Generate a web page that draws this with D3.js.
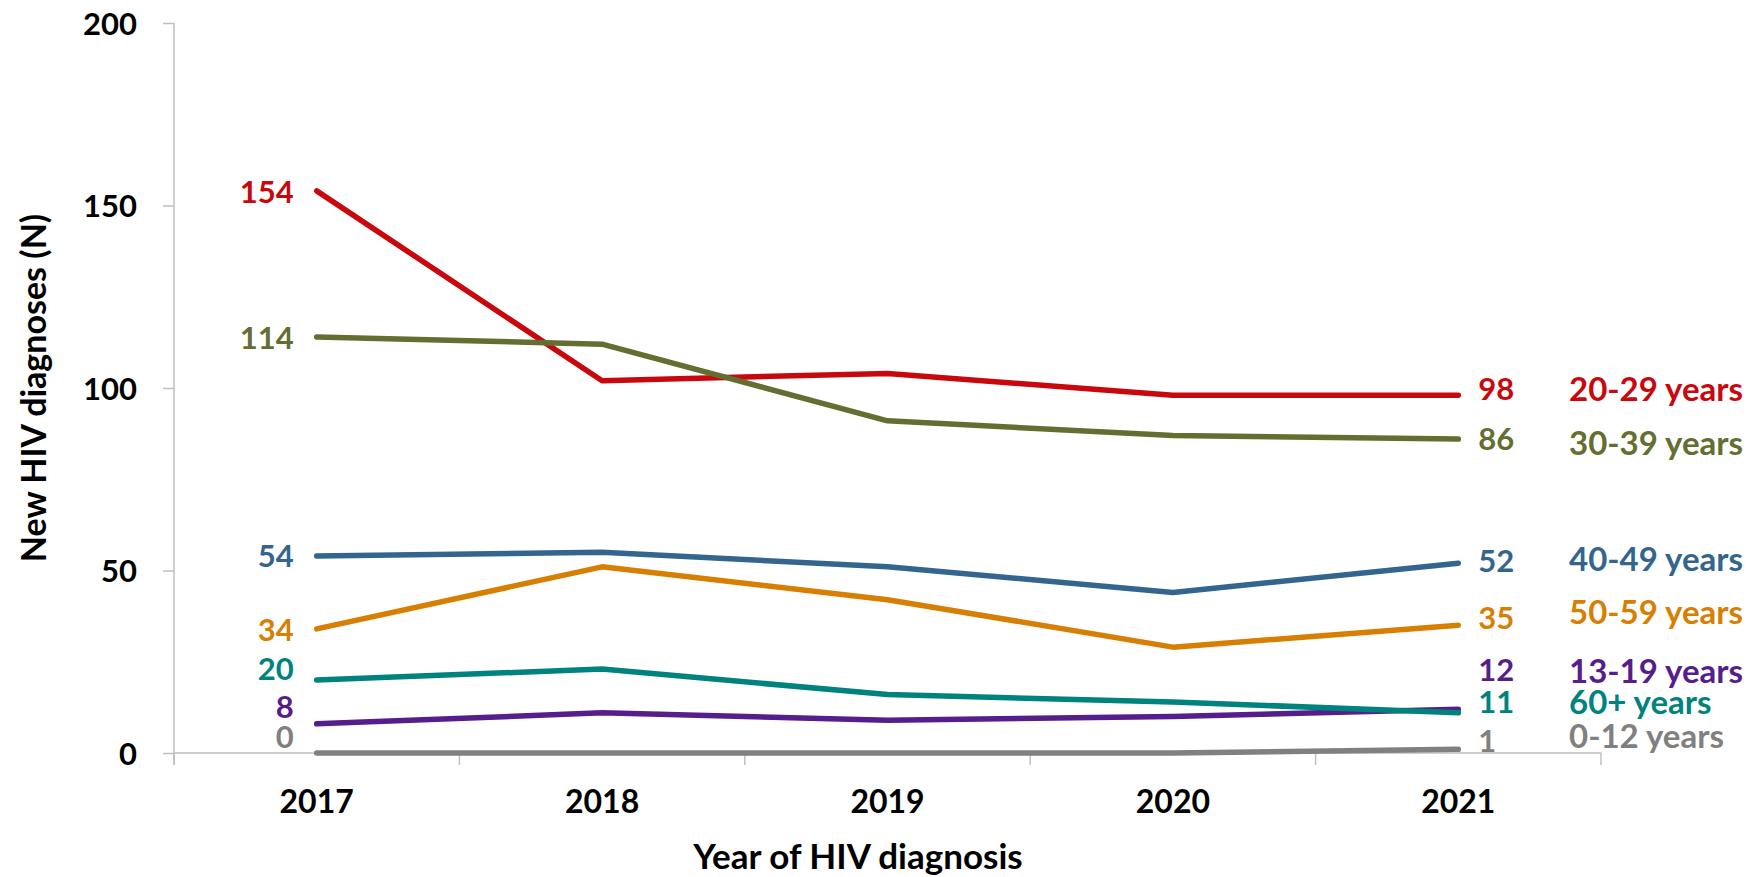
<!DOCTYPE html>
<html>
<head>
<meta charset="utf-8">
<script src="https://cdn.jsdelivr.net/npm/d3@7"></script>
<style>
  body { margin: 0; background: #fff; }
  svg text { font-family: Lato, "Open Sans", sans-serif; font-weight: bold; }
</style>
</head>
<body>
<div id="chart"></div>
<script>
// Data
const years = [2017, 2018, 2019, 2020, 2021];
const yTicks = [0, 50, 100, 150, 200];

const groups = ["0-12 years", "13-19 years", "20-29 years", "30-39 years", "40-49 years", "50-59 years", "60+ years"];
const age0_12 = [0, 0, 0, 0, 1];
const age13_19 = [8, 11, 9, 10, 12];
const age20_29 = [154, 102, 104, 98, 98];
const age30_39 = [114, 112, 91, 87, 86];
const age40_49 = [54, 55, 51, 44, 52];
const age50_59 = [34, 51, 42, 29, 35];
const age60plus = [20, 23, 16, 14, 11];

const seriesValues = [age0_12, age13_19, age20_29, age30_39, age40_49, age50_59, age60plus];
const colors = ["#808080", "#561D8C", "#C9080E", "#636E30", "#33658F", "#D77F03", "#00827E"];

// label nudges (px) so the end labels do not collide
const leftDy = [-16, -17, 1, 1, 0, 1, -11];
const rightValueDy = [-9, -39, -6, 0, -2, -7, -11];
const rightNameDy = [-13, -38, -6, 4, -4, -13, -11];

const width = 1762, height = 877;
const svg = d3.select("#chart").append("svg")
    .attr("width", width)
    .attr("height", height);

const x = d3.scaleBand().domain(years).range([174, 1601]).padding(0);
const y = d3.scaleLinear().domain([0, 200]).range([753, 23]);
const cx = d => x(d) + x.bandwidth() / 2;

const axisColor = "#BFBFBF";

// y axis
const yAxis = svg.append("g")
    .attr("transform", "translate(174,0)")
    .call(d3.axisLeft(y).tickValues(yTicks).tickSize(11).tickPadding(26).tickSizeOuter(0));
yAxis.select(".domain").remove();
yAxis.selectAll(".tick line").attr("stroke", axisColor).attr("stroke-width", 1.5);
yAxis.selectAll(".tick text").attr("font-size", 31).attr("fill", "#000").attr("dy", "0.36em");
svg.append("line")
    .attr("x1", 174).attr("x2", 174)
    .attr("y1", y(200)).attr("y2", y(0) + 12)
    .attr("stroke", axisColor).attr("stroke-width", 1.5);

// x axis with category boundary ticks
svg.append("line")
    .attr("x1", 174).attr("x2", 1601)
    .attr("y1", y(0)).attr("y2", y(0))
    .attr("stroke", axisColor).attr("stroke-width", 1.5);
const bounds = years.map(d => x(d)).concat([x(years[years.length - 1]) + x.bandwidth()]);
svg.selectAll(".xb").data(bounds).enter().append("line")
    .attr("x1", d => d).attr("x2", d => d)
    .attr("y1", y(0)).attr("y2", y(0) + 12)
    .attr("stroke", axisColor).attr("stroke-width", 1.5);
svg.selectAll(".xl").data(years).enter().append("text")
    .attr("x", d => cx(d))
    .attr("y", 801)
    .attr("dy", "0.36em")
    .attr("text-anchor", "middle")
    .attr("font-size", 32)
    .attr("fill", "#000")
    .text(d => d);

// axis titles
svg.append("text")
    .attr("x", 858).attr("y", 856).attr("dy", "0.36em")
    .attr("text-anchor", "middle")
    .attr("font-size", 35)
    .text("Year of HIV diagnosis");
svg.append("text")
    .attr("transform", "translate(34,388) rotate(-90)")
    .attr("dy", "0.36em")
    .attr("text-anchor", "middle")
    .attr("font-size", 34)
    .text("New HIV diagnoses (N)");

// lines
const line = d3.line().x((d, i) => cx(years[i])).y(d => y(d));
svg.selectAll(".series").data(seriesValues).enter().append("path")
    .attr("d", d => line(d))
    .attr("fill", "none")
    .attr("stroke", (d, i) => colors[i])
    .attr("stroke-width", 5.5)
    .attr("stroke-linecap", "round")
    .attr("stroke-linejoin", "round");

// start labels
svg.selectAll(".lstart").data(seriesValues).enter().append("text")
    .attr("x", cx(years[0]) - 23)
    .attr("y", (d, i) => y(d[0]) + leftDy[i])
    .attr("dy", "0.36em")
    .attr("text-anchor", "end")
    .attr("font-size", 31)
    .attr("fill", (d, i) => colors[i])
    .text(d => d[0]);

// end labels
const last = years.length - 1;
svg.selectAll(".lend").data(seriesValues).enter().append("text")
    .attr("x", cx(years[last]) + 20)
    .attr("y", (d, i) => y(d[last]) + rightValueDy[i])
    .attr("dy", "0.36em")
    .attr("font-size", 31)
    .attr("fill", (d, i) => colors[i])
    .text(d => d[last]);

svg.selectAll(".lname").data(seriesValues).enter().append("text")
    .attr("x", 1569)
    .attr("y", (d, i) => y(d[last]) + rightNameDy[i])
    .attr("dy", "0.36em")
    .attr("font-size", 33)
    .attr("fill", (d, i) => colors[i])
    .text((d, i) => groups[i]);
</script>
</body>
</html>
